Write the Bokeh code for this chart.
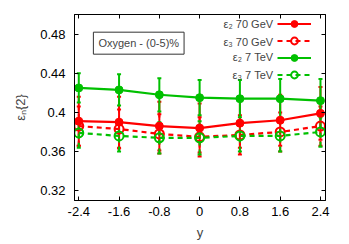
from bokeh.plotting import figure
from bokeh.models import (ColumnDataSource, Whisker, TeeHead, Legend, LegendItem,
                          Label, LinearAxis, Range1d, FixedTicker)
from bokeh.embed import file_html
from bokeh.resources import INLINE

# ---- data ----
rapidity = [-2.4, -1.6, -0.8, 0.0, 0.8, 1.6, 2.4]
eps2_70gev = [0.391, 0.390, 0.386, 0.384, 0.389, 0.392, 0.399]
eps2_70gev_err = [0.025, 0.026, 0.025, 0.025, 0.025, 0.026, 0.027]
eps3_70gev = [0.386, 0.383, 0.378, 0.375, 0.377, 0.380, 0.386]
eps3_70gev_err = [0.020, 0.020, 0.020, 0.020, 0.020, 0.020, 0.020]
eps2_7tev = [0.425, 0.423, 0.418, 0.415, 0.414, 0.414, 0.412]
eps2_7tev_err = [0.015, 0.016, 0.017, 0.018, 0.019, 0.020, 0.022]
eps3_7tev = [0.379, 0.376, 0.374, 0.374, 0.376, 0.376, 0.380]
eps3_7tev_err = [0.015, 0.016, 0.016, 0.017, 0.016, 0.016, 0.015]
x_ticks = [-2.4, -1.6, -0.8, 0, 0.8, 1.6, 2.4]
y_ticks = [0.32, 0.36, 0.40, 0.44, 0.48]
labels = ["ε₂ 70 GeV", "ε₃ 70 GeV", "ε₂ 7 TeV", "ε₃ 7 TeV"]

RED = "#ff0000"
GREEN = "#00c000"
FONT = "Liberation Sans"

p = figure(frame_width=251, frame_height=186, output_backend="svg",
           toolbar_location=None,
           x_range=Range1d(-2.485, 2.5), y_range=Range1d(0.31, 0.5),
           min_border_left=74, min_border_right=24, min_border_top=14,
           min_border_bottom=44)
p.xgrid.visible = False
p.ygrid.visible = False
p.outline_line_color = "black"
p.outline_line_width = 1
p.background_fill_color = "white"
p.border_fill_color = "white"

def style_axis(ax, show_labels=True):
    ax.major_tick_in = 4
    ax.major_tick_out = 0
    ax.minor_tick_line_color = None
    ax.axis_line_color = "black"
    ax.major_label_text_font = FONT
    ax.major_label_text_font_size = "13px"
    ax.major_label_text_color = "black"
    ax.axis_label_text_font = FONT
    ax.axis_label_text_font_style = "normal"
    ax.axis_label_text_font_size = "13px"
    if not show_labels:
        ax.major_label_text_font_size = "0px"
        ax.major_label_text_color = None
        ax.major_label_standoff = 0

p.xaxis.ticker = FixedTicker(ticks=x_ticks)
p.yaxis.ticker = FixedTicker(ticks=y_ticks)
p.xaxis.major_label_overrides = {-2.4: "-2.4", -1.6: "-1.6", -0.8: "-0.8", 0: "0",
                                 0.8: "0.8", 1.6: "1.6", 2.4: "2.4"}
p.yaxis.major_label_overrides = {0.32: "0.32", 0.36: "0.36", 0.40: "0.4",
                                 0.44: "0.44", 0.48: "0.48"}
style_axis(p.xaxis[0])
style_axis(p.yaxis[0])
p.xaxis.axis_label = "y"
p.yaxis.axis_label = "εₙ{2}"
p.xaxis.major_label_standoff = 6
p.xaxis.axis_label_standoff = 6
p.yaxis.major_label_standoff = 9
p.yaxis.axis_label_standoff = 9

ax_r = LinearAxis(ticker=FixedTicker(ticks=y_ticks))
style_axis(ax_r, show_labels=False)
p.add_layout(ax_r, "right")
ax_t = LinearAxis(ticker=FixedTicker(ticks=x_ticks))
style_axis(ax_t, show_labels=False)
p.add_layout(ax_t, "above")

series = [
    (eps2_70gev, eps2_70gev_err, RED, "solid", True),
    (eps3_70gev, eps3_70gev_err, RED, "5 4", False),
    (eps2_7tev, eps2_7tev_err, GREEN, "solid", True),
    (eps3_7tev, eps3_7tev_err, GREEN, "5 4", False),
]

items = []
for (vals, errs, col, dash, filled), lab in zip(series, labels):
    src = ColumnDataSource(dict(
        x=rapidity, y=vals,
        lo=[v - e for v, e in zip(vals, errs)],
        hi=[v + e for v, e in zip(vals, errs)]))
    w = Whisker(source=src, base="x", lower="lo", upper="hi",
                line_color=col, line_width=2, line_dash=dash,
                upper_head=TeeHead(size=4, line_color=col, line_width=2),
                lower_head=TeeHead(size=4, line_color=col, line_width=2))
    p.add_layout(w)
    r_line = p.line("x", "y", source=src, line_color=col, line_width=2.2,
                    line_dash=dash)
    if filled:
        r_mark = p.scatter("x", "y", source=src, size=8, marker="circle",
                           fill_color=col, line_color=col)
    else:
        r_mark = p.scatter("x", "y", source=src, size=9, marker="circle",
                           fill_color=None, line_color=col, line_width=2)
    items.append(LegendItem(label="", renderers=[r_line, r_mark]))

# legend samples (glyphs) to the right of right-aligned texts, gnuplot style
legend = Legend(items=items, location=(203, 117),
                background_fill_alpha=0, border_line_color=None,
                label_text_font_size="0px",
                glyph_width=34, glyph_height=17, label_height=17,
                label_width=0, spacing=0, padding=0, margin=0, label_standoff=0)
p.add_layout(legend, "center")

legend_y = [0.4898, 0.4724, 0.4561, 0.4377]
for lab, ly in zip(labels, legend_y):
    p.add_layout(Label(x=1.46, y=ly, text=lab, text_font=FONT,
                       text_font_size="11px", text_align="right",
                       text_baseline="middle"))

box = Label(x=-2.11, y=0.4707, text="Oxygen - (0-5)%", text_font=FONT,
            text_font_size="11px", text_baseline="middle", text_align="left",
            border_line_color="#333333", border_line_width=1,
            background_fill_color="white", padding=5)
p.add_layout(box)

open("out.html", "w").write(file_html(p, INLINE))
